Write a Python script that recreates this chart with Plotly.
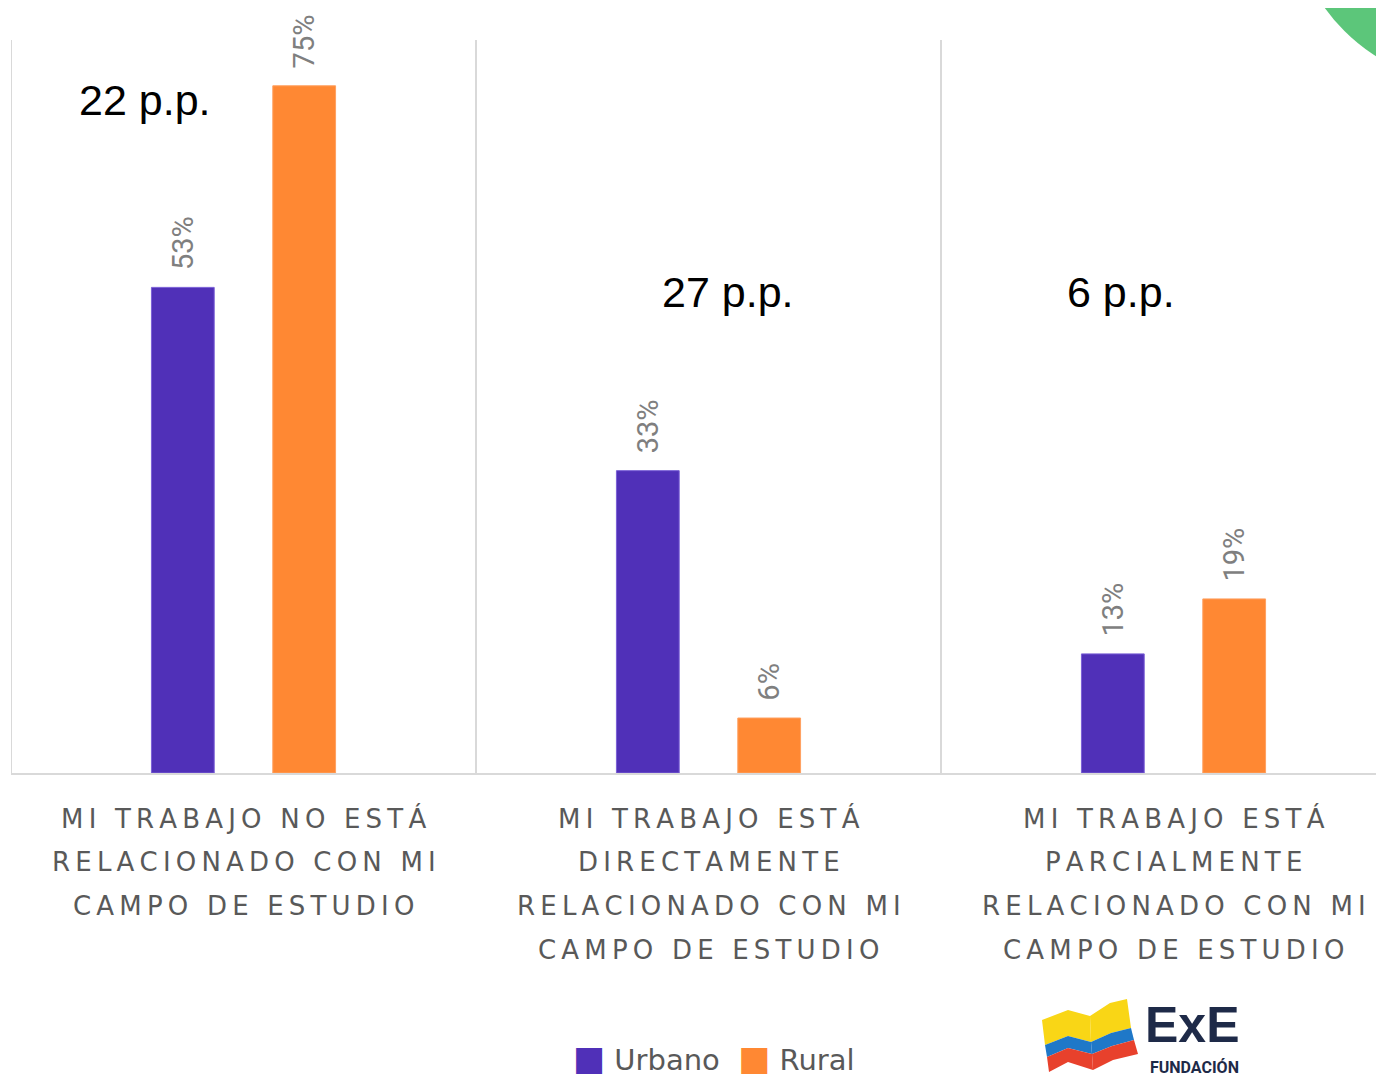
import plotly.graph_objects as go

# data
categories = [0, 1, 2]
category_lines = [
    ["MI TRABAJO NO ESTÁ", "RELACIONADO CON MI", "CAMPO DE ESTUDIO"],
    ["MI TRABAJO ESTÁ", "DIRECTAMENTE", "RELACIONADO CON MI", "CAMPO DE ESTUDIO"],
    ["MI TRABAJO ESTÁ", "PARCIALMENTE", "RELACIONADO CON MI", "CAMPO DE ESTUDIO"],
]
urbano = [53, 33, 13]
rural = [75, 6, 19]
gap_labels = ["22 p.p.", "27 p.p.", "6 p.p."]

PURPLE = "#5030B8"
ORANGE = "#FF8833"
GRAY = "#595959"
NAVY = "#1e2a48"

# page has an 8px body margin; figure is sized to fit the window
OFF = 8
W, H = 1384 - 2 * OFF, 1087 - 2 * OFF
L, R, T, B = 11 - OFF, 0, 40 - OFF, H - (773 - OFF)
PW, PH = W - L - R, H - T - B
CAT_W = 465


def px(x, y):
    # window pixel position -> paper coordinates
    fx, fy = x - OFF, y - OFF
    return (fx - L) / PW, (H - B - fy) / PH


def spaced(s):
    return "\u2009".join(s)


fig = go.Figure()

for vals, name, color, edge, off in [(urbano, "Urbano", PURPLE, "#7a60d6", -0.198),
                                     (rural, "Rural", ORANGE, "#ffa060", 0.063)]:
    fig.add_trace(go.Bar(
        x=categories, y=vals, name=name,
        width=0.135, offset=off,
        marker=dict(color=color, line=dict(color=edge, width=1)),
        texttemplate="\u00a0\u00a0%{y}%", textposition="outside", textangle=-90,
        textfont=dict(family="Roboto", size=29, color="#7f7f7f"),
        constraintext="none", cliponaxis=False, showlegend=False
    ))

shapes = []
# separators between categories
for xs in [-0.5, 0.5, 1.5]:
    shapes.append(dict(type="line", xref="x", yref="y", x0=xs, x1=xs, y0=0, y1=80,
                       line=dict(color="#d9d9d9", width=2)))

# green circle top right
x0, y0 = px(1290, 85)
x1, y1 = px(1660, -285)
shapes.append(dict(type="circle", xref="paper", yref="paper", x0=x0, x1=x1, y0=y0, y1=y1,
                   fillcolor="#5cc67a", line=dict(width=0), layer="above"))


# logo book (rough)
def poly(pts, color):
    p = [px(a, b) for a, b in pts]
    path = "M " + " L ".join(f"{a},{b}" for a, b in p) + " Z"
    return dict(type="path", xref="paper", yref="paper", path=path,
                fillcolor=color, line=dict(width=0), layer="above")


shapes += [
    poly([(1042, 1020), (1068, 1010), (1090, 1016), (1091, 1042), (1068, 1036), (1045, 1045)], "#f9d616"),
    poly([(1045, 1045), (1068, 1036), (1091, 1042), (1092, 1054), (1068, 1048), (1047, 1057)], "#1f78c8"),
    poly([(1047, 1057), (1068, 1048), (1092, 1054), (1093, 1070), (1068, 1062), (1049, 1072)], "#e8412c"),
    poly([(1090, 1016), (1110, 1003), (1127, 999), (1131, 1028), (1111, 1033), (1091, 1042)], "#f9d616"),
    poly([(1091, 1042), (1111, 1033), (1131, 1028), (1134, 1040), (1112, 1046), (1092, 1054)], "#1f78c8"),
    poly([(1092, 1054), (1112, 1046), (1134, 1040), (1138, 1054), (1113, 1060), (1093, 1070)], "#e8412c"),
]


def note(x, y, text, font, **kw):
    xa, ya = px(x, y)
    return dict(x=xa, y=ya, xref="paper", yref="paper", text=text, showarrow=False,
                xanchor="center", yanchor="middle", font=font, **kw)


annotations = []
# category labels
line_y = [818, 862, 906, 950]
for c, lines in zip(categories, category_lines):
    for i, t in enumerate(lines):
        annotations.append(dict(x=c, y=px(0, line_y[i])[1], xref="x", yref="paper",
                                text=spaced(t), showarrow=False, xanchor="center", yanchor="middle",
                                font=dict(family="DejaVu Sans", size=26, color=GRAY)))

# p.p. differences
pp_pos = [(145, 100), (728, 292), (1121, 292)]
for t, (a, b) in zip(gap_labels, pp_pos):
    annotations.append(note(a, b, t, dict(family="Liberation Sans", size=43, color="#000000")))

# legend
annotations.append(note(
    714, 1058,
    f"<span style='color:{PURPLE};font-size:34px'>■</span> Urbano  "
    f"<span style='color:{ORANGE};font-size:34px'>■</span> Rural",
    dict(family="DejaVu Sans", size=29, color=GRAY)))

# logo text
annotations.append(note(1192, 1025, "<b>ExE</b>", dict(family="Liberation Sans", size=50, color=NAVY)))
annotations.append(note(1194, 1067, "<b>FUNDACIÓN</b>", dict(family="Roboto", size=16, color=NAVY)))

fig.update_layout(
    width=W, height=H,
    margin=dict(l=L, r=R, t=T, b=B),
    plot_bgcolor="white", paper_bgcolor="white",
    xaxis=dict(range=[-0.5, -0.5 + PW / CAT_W], showticklabels=False, showgrid=False,
               zeroline=False, showline=True, linecolor="#d9d9d9", linewidth=2, ticks=""),
    yaxis=dict(range=[0, 80], visible=False),
    shapes=shapes, annotations=annotations,
    showlegend=False,
)

fig.write_html("out.html")
